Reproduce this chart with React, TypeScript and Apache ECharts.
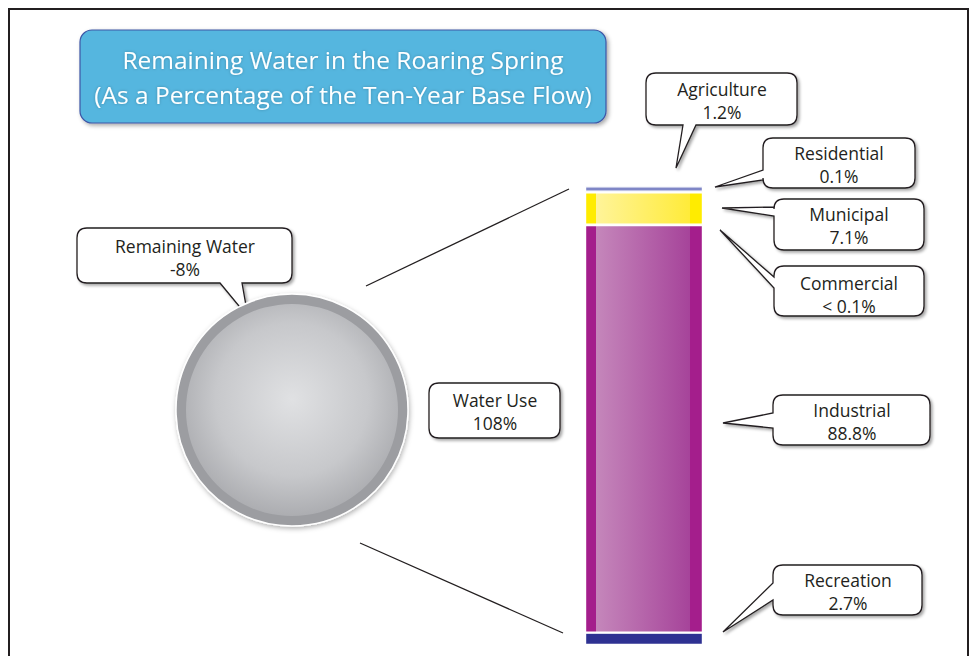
import React, { useEffect, useRef } from "react";
import * as echarts from "echarts";

const titleLines = ["Remaining Water in the Roaring Spring", "(As a Percentage of the Ten-Year Base Flow)"];

const totalCategories = ["Remaining Water", "Water Use"];
const totalValues = [-8, 108];
const totalLabels = ["-8%", "108%"];

const useCategories = ["Agriculture", "Residential", "Municipal", "Commercial", "Industrial", "Recreation"];
const useValues = [1.2, 0.1, 7.1, 0.05, 88.8, 2.7];
const useLabels = ["1.2%", "0.1%", "7.1%", "< 0.1%", "88.8%", "2.7%"];

const FONT = '"Open Sans", "Noto Sans", sans-serif';
const TEXT = "#231f20";

function grad(edge: string, inL: string, inR: string) {
  return {
    type: "linear", x: 0, y: 0, x2: 1, y2: 0,
    colorStops: [
      { offset: 0, color: edge }, { offset: 0.085, color: edge },
      { offset: 0.085, color: inL }, { offset: 0.89, color: inR },
      { offset: 0.89, color: edge }, { offset: 1, color: edge },
    ],
  };
}

const useColors: any[] = [
  "#7f86c6",
  "#b9bde0",
  grad("#ffec00", "#fff49a", "#ffeb3a"),
  "#d0a3c9",
  grad("#a41e8c", "#c587bb", "#a6449a"),
  "#2e3192",
];

type Tail = { side: "bottom" | "left"; a: number; b: number; tip: [number, number] } | null;

function bubblePath(x: number, y: number, w: number, h: number, r: number, tail: Tail) {
  let d = `M${x + r},${y} H${x + w - r} Q${x + w},${y} ${x + w},${y + r} V${y + h - r} Q${x + w},${y + h} ${x + w - r},${y + h} `;
  if (tail && tail.side === "bottom") {
    d += `H${tail.b} L${tail.tip[0]},${tail.tip[1]} L${tail.a},${y + h} `;
  }
  d += `H${x + r} Q${x},${y + h} ${x},${y + h - r} `;
  if (tail && tail.side === "left") {
    d += `V${tail.b} L${tail.tip[0]},${tail.tip[1]} L${x},${tail.a} `;
  }
  d += `V${y + r} Q${x},${y} ${x + r},${y} Z`;
  return d;
}

// bubble geometry
const bubbleGeo: { box: [number, number, number, number]; tail: Tail; tc: [number, number] }[] = [
  { box: [77, 228, 215, 55], tail: { side: "bottom", a: 220, b: 242, tip: [248, 317] }, tc: [185, 257] },
  { box: [429, 383, 131, 55], tail: null, tc: [495, 411] },
  { box: [646, 73, 151, 52], tail: { side: "bottom", a: 683, b: 696, tip: [676, 168] }, tc: [722, 100] },
  { box: [763, 138, 152, 50], tail: { side: "left", a: 170, b: 180, tip: [715, 187] }, tc: [839, 164] },
  { box: [774, 199, 150, 51], tail: { side: "left", a: 207, b: 216, tip: [722, 208] }, tc: [849, 225] },
  { box: [774, 266, 150, 50], tail: { side: "left", a: 277, b: 288, tip: [720, 230] }, tc: [849, 294] },
  { box: [773, 395, 157, 50], tail: { side: "left", a: 413, b: 428, tip: [723, 423] }, tc: [852, 421] },
  { box: [773, 565, 149, 50], tail: { side: "left", a: 583, b: 600, tip: [723, 632] }, tc: [848, 591] },
];

export default function App() {
  const ref = useRef<HTMLDivElement>(null);
  useEffect(() => {
    document.body.style.margin = "0";
    if (!ref.current) return;
    const chart = echarts.init(ref.current, null, { renderer: "svg" });

    const texts = [
      totalCategories[0] + "\n" + totalLabels[0],
      totalCategories[1] + "\n" + totalLabels[1],
      ...useCategories.map((c, i) => c + "\n" + useLabels[i]),
    ];

    const graphics: any[] = [];
    graphics.push({
      type: "rect", shape: { x: 9, y: 9, width: 959, height: 700 },
      style: { fill: "none", stroke: "#231f20", lineWidth: 2 }, silent: true,
    });
    graphics.push({
      type: "rect", shape: { x: 80, y: 30, width: 526, height: 93, r: 12 },
      style: { fill: "#55b6df", stroke: "#3d56a6", lineWidth: 1.2, shadowBlur: 4, shadowOffsetX: 2, shadowOffsetY: 2, shadowColor: "rgba(0,0,0,0.35)" },
    });
    graphics.push({
      type: "text", x: 343, y: 77,
      style: { text: titleLines.join("\n"), fill: "#ffffff", font: `24.5px ${FONT}`, align: "center", verticalAlign: "middle", lineHeight: 35, textShadowBlur: 3, textShadowColor: "rgba(0,0,0,0.25)" },
    });
    graphics.push({ type: "line", shape: { x1: 366, y1: 286, x2: 569, y2: 189 }, style: { stroke: "#231f20", lineWidth: 1.3 } });
    graphics.push({ type: "line", shape: { x1: 360, y1: 543, x2: 563, y2: 633 }, style: { stroke: "#231f20", lineWidth: 1.3 } });

    bubbleGeo.forEach((b, i) => {
      const name = "bubble" + i;
      const d = bubblePath(b.box[0], b.box[1], b.box[2], b.box[3], 10, b.tail);
      echarts.graphic.registerShape(name, echarts.graphic.extendPath(d, {}) as any);
      graphics.push({
        type: name, x: 0, y: 0,
        style: { fill: "#ffffff", stroke: "#231f20", lineWidth: 1.3, shadowBlur: 3, shadowOffsetX: 2, shadowOffsetY: 2, shadowColor: "rgba(0,0,0,0.35)" },
      });
      graphics.push({
        type: "text", x: b.tc[0], y: b.tc[1],
        style: { text: texts[i], fill: TEXT, font: `17.5px ${FONT}`, align: "center", verticalAlign: "middle", lineHeight: 23 },
      });
    });

    const stackOrder = useCategories.map((_, i) => i).reverse();
    const barSeries = stackOrder.map((i) => ({
      type: "bar",
      name: useCategories[i],
      stack: "use",
      barWidth: "100%",
      data: [useValues[i]],
      itemStyle: { color: useColors[i], borderColor: "#ffffff", borderWidth: 1.2 },
      silent: true,
    }));

    chart.setOption({
      animation: false,
      graphic: graphics,
      grid: { left: 585, top: 186, width: 118, bottom: 11 },
      xAxis: { type: "category", data: ["Water Use"], show: false },
      yAxis: { type: "value", min: 0, max: 100, show: false },
      series: [
        {
          type: "pie", silent: true, center: [292, 410], radius: [0, 116],
          label: { show: false }, labelLine: { show: false },
          data: [{ name: totalCategories[0], value: Math.abs(totalValues[0]) }],
          itemStyle: { color: "#9c9da1", borderColor: "#ffffff", borderWidth: 1.5, shadowBlur: 5, shadowOffsetX: 1, shadowOffsetY: 2, shadowColor: "rgba(0,0,0,0.3)" },
        },
        {
          type: "pie", silent: true, center: [292, 410], radius: [0, 106],
          label: { show: false }, labelLine: { show: false },
          data: [{ name: totalCategories[1], value: totalValues[1] }],
          itemStyle: {
            color: {
              type: "radial", x: 0.5, y: 0.45, r: 0.6,
              colorStops: [{ offset: 0, color: "#e0e1e3" }, { offset: 0.6, color: "#c7c8cb" }, { offset: 1, color: "#a5a6aa" }],
            },
          },
        },
        ...barSeries,
      ],
    });
    return () => chart.dispose();
  }, []);
  return <div ref={ref} style={{ width: 977, height: 656 }} />;
}
